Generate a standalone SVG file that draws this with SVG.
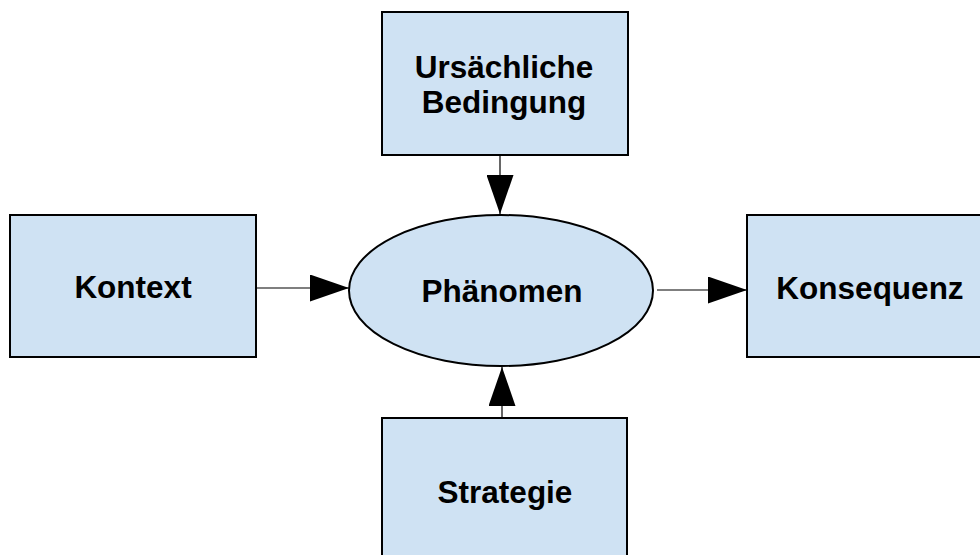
<svg xmlns="http://www.w3.org/2000/svg" width="980" height="555" viewBox="0 0 980 555">
<style>
.box{fill:#cfe2f3;stroke:#000;stroke-width:2}
.ell{fill:#cfe2f3;stroke:#000;stroke-width:2}
.lbl{font-family:"Liberation Sans",Arial,sans-serif;font-weight:bold;font-size:31.5px;fill:#000;text-anchor:middle}
.con{stroke:#000;stroke-width:1.2;fill:none}
</style>
<defs>
<marker id="ah" viewBox="0 0 39 27" refX="39" refY="13.5" markerWidth="39" markerHeight="27" markerUnits="userSpaceOnUse" orient="auto">
<path d="M0,0 L39,13.5 L0,27 Z" fill="#000"/>
</marker>
</defs>
<rect width="980" height="555" fill="#fff"/>
<g id="connectors">
<line class="con" x1="500" y1="155" x2="500" y2="214" marker-end="url(#ah)"/>
<line class="con" x1="256" y1="288" x2="349" y2="288" marker-end="url(#ah)"/>
<line class="con" x1="657" y1="290" x2="747" y2="290" marker-end="url(#ah)"/>
<line class="con" x1="502" y1="418" x2="502" y2="367" marker-end="url(#ah)"/>
</g>
<g id="ursache">
<rect class="box" x="382" y="12" width="246" height="143"/>
<text class="lbl" x="504" y="78">Ursächliche</text>
<text class="lbl" x="504" y="113">Bedingung</text>
</g>
<g id="kontext">
<rect class="box" x="10" y="215" width="246" height="142"/>
<text class="lbl" x="133" y="298">Kontext</text>
</g>
<g id="phaenomen">
<ellipse class="ell" cx="501" cy="290.5" rx="152" ry="75.5"/>
<text class="lbl" x="502" y="302">Phänomen</text>
</g>
<g id="konsequenz">
<rect class="box" x="747" y="215" width="246" height="142"/>
<text class="lbl" x="870" y="299">Konsequenz</text>
</g>
<g id="strategie">
<rect class="box" x="382" y="418" width="245" height="143"/>
<text class="lbl" x="505" y="503">Strategie</text>
</g>
</svg>
